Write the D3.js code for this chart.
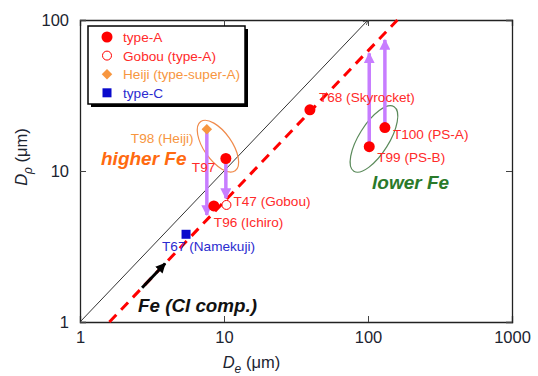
<!DOCTYPE html>
<html>
<head>
<meta charset="utf-8">
<script src="https://cdn.jsdelivr.net/npm/d3@7"></script>
<style>
  body { margin: 0; background: #fff; }
  svg text { font-family: Arial, 'Liberation Sans', sans-serif; }
</style>
</head>
<body>
<div id="chart"></div>
<script>
// values (De, Dp in um)
const typeALabels = ['T68 (Skyrocket)', 'T100 (PS-A)', 'T99 (PS-B)', 'T97', 'T96 (Ichiro)'];
const typeADe = [39.5, 131, 102, 10.3, 8.5];
const typeADp = [25.4, 19.4, 14.5, 12.1, 5.87];

const gobouLabels = ['T47 (Gobou)'];
const gobouDe = [10.4];
const gobouDp = [5.96];

const heijiLabels = ['T98 (Heiji)'];
const heijiDe = [7.6];
const heijiDp = [18.9];

const typeCLabels = ['T67 (Namekuji)'];
const typeCDe = [5.45];
const typeCDp = [3.81];

// purple shift arrows: De, Dp start -> Dp end
const shiftDe = [7.6, 10.3, 102, 131];
const shiftFrom = [18.9, 12.1, 14.5, 19.4];
const shiftTo = [5.11, 6.6, 60.2, 73.8];

// 1:1 line and Fe (CI composition) line
const oneToOneDe = [1, 100];
const oneToOneDp = [1, 100];
const ciDe = [1.6, 160];
const ciDp = [1, 100];
const ciArrowDe = [2.7, 3.9];

const tickValues = [1, 10, 100, 1000];
const yTickValues = [1, 10, 100];

// label offsets from their points (px)
const labelOffsets = {
  'T68 (Skyrocket)': [9, -8], 'T100 (PS-A)': [8, 11], 'T99 (PS-B)': [8, 15],
  'T97': [-34, 14], 'T96 (Ichiro)': [0, 21], 'T47 (Gobou)': [7, 1],
  'T98 (Heiji)': [-76, 14], 'T67 (Namekuji)': [-24, 17]
};

const red = '#ff0000', textRed = '#ff2a2a', orange = '#f7963f', blue = '#0a0acc';
const purple = '#c77dff';

const margin = {top: 20, right: 26, bottom: 54, left: 80};
const width = 538, height = 376;
const w = width - margin.left - margin.right;
const h = height - margin.top - margin.bottom;

const svg = d3.select('#chart').append('svg')
  .attr('width', width)
  .attr('height', height);

const defs = svg.append('defs');
defs.append('marker')
  .attr('id', 'head-purple')
  .attr('viewBox', '0 0 10 10')
  .attr('refX', 9).attr('refY', 5)
  .attr('markerUnits', 'userSpaceOnUse')
  .attr('markerWidth', 11).attr('markerHeight', 11)
  .attr('orient', 'auto')
  .append('path').attr('d', 'M0,0 L10,5 L0,10 Z').attr('fill', purple);
defs.append('marker')
  .attr('id', 'head-black')
  .attr('viewBox', '0 0 10 10')
  .attr('refX', 9).attr('refY', 5)
  .attr('markerUnits', 'userSpaceOnUse')
  .attr('markerWidth', 10).attr('markerHeight', 10)
  .attr('orient', 'auto')
  .append('path').attr('d', 'M0,0 L10,5 L0,10 Z').attr('fill', '#000');
defs.append('marker')
  .attr('id', 'head-thin')
  .attr('viewBox', '0 0 10 10')
  .attr('refX', 10).attr('refY', 5)
  .attr('markerUnits', 'userSpaceOnUse')
  .attr('markerWidth', 5).attr('markerHeight', 5)
  .attr('orient', 'auto')
  .append('path').attr('d', 'M0,0 L10,5 L0,10').attr('fill', 'none').attr('stroke', '#333').attr('stroke-width', 1.5);

const chart = svg.append('g')
  .attr('transform', 'translate(' + margin.left + ',' + margin.top + ')');

const x = d3.scaleLog().domain([1, 1000]).range([0, w]);
const y = d3.scaleLog().domain([1, 100]).range([h, 0]);

// axes with inward ticks
const xAxis = chart.append('g')
  .attr('transform', 'translate(0,' + h + ')')
  .call(d3.axisBottom(x).tickValues(tickValues).tickFormat(d3.format('d')).tickSize(-6).tickPadding(9));
const xTop = chart.append('g')
  .call(d3.axisTop(x).tickValues(tickValues).tickFormat('').tickSize(-6));
const yAxis = chart.append('g')
  .call(d3.axisLeft(y).tickValues(yTickValues).tickFormat(d3.format('d')).tickSize(-6).tickPadding(11));
const yRight = chart.append('g')
  .attr('transform', 'translate(' + w + ',0)')
  .call(d3.axisRight(y).tickValues(yTickValues).tickFormat('').tickSize(-6));

[xAxis, xTop, yAxis, yRight].forEach(a => {
  a.select('.domain').attr('stroke', '#222').attr('stroke-width', 1.3);
  a.selectAll('.tick line').attr('stroke', '#444');
  a.selectAll('.tick text').attr('font-size', 16.5).attr('fill', '#1c2430')
    .attr('font-family', 'Arial, Liberation Sans, sans-serif');
});

// axis titles
const xt = svg.append('text')
  .attr('x', margin.left + x(15.5)).attr('y', 368)
  .attr('text-anchor', 'middle').attr('font-size', 16.5).attr('fill', '#1c2430');
xt.append('tspan').attr('font-style', 'italic').text('D');
xt.append('tspan').attr('font-style', 'italic').attr('font-size', 12).attr('dy', 5).text('e');
xt.append('tspan').attr('dy', -5).text(' (\u03bcm)');

const yt = svg.append('text')
  .attr('transform', 'translate(27,157) rotate(-90)')
  .attr('text-anchor', 'middle').attr('font-size', 16.5).attr('fill', '#1c2430');
yt.append('tspan').attr('font-style', 'italic').text('D');
yt.append('tspan').attr('font-style', 'italic').attr('font-size', 12).attr('dy', 5).text('\u03c1');
yt.append('tspan').attr('dy', -5).text(' (\u03bcm)');

// reference lines
const line = d3.line().x(d => x(d[0])).y(d => y(d[1]));
chart.append('path')
  .attr('d', line(d3.zip(oneToOneDe, oneToOneDp)))
  .attr('stroke', '#333').attr('stroke-width', 1).attr('fill', 'none')
  .attr('marker-end', 'url(#head-thin)');
chart.append('path')
  .attr('d', line(d3.zip(ciDe, ciDp)))
  .attr('stroke', red).attr('stroke-width', 3).attr('fill', 'none')
  .attr('stroke-dasharray', '10,7');

// black arrow along the CI line
const ciRatio = ciDp[0] / ciDe[0];
chart.append('path')
  .attr('d', line(ciArrowDe.map(d => [d, d * ciRatio])))
  .attr('stroke', '#000').attr('stroke-width', 3).attr('fill', 'none')
  .attr('marker-end', 'url(#head-black)');

// ellipses marking the groups
chart.append('ellipse')
  .attr('cx', x(9.08)).attr('cy', y(14.6))
  .attr('rx', 30).attr('ry', 14)
  .attr('transform', 'rotate(55,' + x(9.08) + ',' + y(14.6) + ')')
  .attr('fill', 'none').attr('stroke', '#f08a4b').attr('stroke-width', 1.2);
chart.append('ellipse')
  .attr('cx', x(110)).attr('cy', y(16.3))
  .attr('rx', 38).attr('ry', 15)
  .attr('transform', 'rotate(-58,' + x(110) + ',' + y(16.3) + ')')
  .attr('fill', 'none').attr('stroke', '#5a8a5a').attr('stroke-width', 1.2);

// shift arrows
chart.selectAll('.shift')
  .data(d3.range(shiftDe.length))
  .enter().append('line')
  .attr('class', 'shift')
  .attr('x1', i => x(shiftDe[i])).attr('x2', i => x(shiftDe[i]))
  .attr('y1', i => y(shiftFrom[i])).attr('y2', i => y(shiftTo[i]))
  .attr('stroke', purple).attr('stroke-width', 3.5)
  .attr('marker-end', 'url(#head-purple)');

// markers
chart.selectAll('.typeA')
  .data(d3.range(typeADe.length))
  .enter().append('circle')
  .attr('class', 'typeA')
  .attr('cx', i => x(typeADe[i])).attr('cy', i => y(typeADp[i]))
  .attr('r', 5.5).attr('fill', red);

chart.selectAll('.gobou')
  .data(d3.range(gobouDe.length))
  .enter().append('circle')
  .attr('class', 'gobou')
  .attr('cx', i => x(gobouDe[i])).attr('cy', i => y(gobouDp[i]))
  .attr('r', 4.5).attr('fill', '#fff').attr('stroke', red).attr('stroke-width', 1);

const diamond = d3.symbol().type(d3.symbolDiamond2).size(70);
chart.selectAll('.heiji')
  .data(d3.range(heijiDe.length))
  .enter().append('path')
  .attr('class', 'heiji')
  .attr('d', diamond)
  .attr('transform', i => 'translate(' + x(heijiDe[i]) + ',' + y(heijiDp[i]) + ')')
  .attr('fill', orange);

chart.selectAll('.typeC')
  .data(d3.range(typeCDe.length))
  .enter().append('rect')
  .attr('class', 'typeC')
  .attr('x', i => x(typeCDe[i]) - 4.5).attr('y', i => y(typeCDp[i]) - 4.5)
  .attr('width', 9).attr('height', 9).attr('fill', blue);

// point labels
function drawLabels(names, de, dp, color) {
  names.forEach((name, i) => {
    const off = labelOffsets[name];
    chart.append('text')
      .attr('x', x(de[i]) + off[0]).attr('y', y(dp[i]) + off[1])
      .attr('font-size', 13.6).attr('fill', color)
      .text(name);
  });
}
drawLabels(typeALabels, typeADe, typeADp, textRed);
drawLabels(gobouLabels, gobouDe, gobouDp, textRed);
drawLabels(heijiLabels, heijiDe, heijiDp, orange);
drawLabels(typeCLabels, typeCDe, typeCDp, '#2b2bd0');

// annotations
chart.append('text')
  .attr('x', 21).attr('y', 145)
  .attr('font-size', 19).attr('font-weight', 'bold').attr('font-style', 'italic')
  .attr('fill', '#ff6a10').text('higher Fe');
chart.append('text')
  .attr('x', 292).attr('y', 169)
  .attr('font-size', 19).attr('font-weight', 'bold').attr('font-style', 'italic')
  .attr('fill', '#2a7a2a').text('lower Fe');
chart.append('text')
  .attr('x', 58).attr('y', 292)
  .attr('font-size', 18.8).attr('font-weight', 'bold').attr('font-style', 'italic')
  .attr('fill', '#111').text('Fe (CI comp.)');

// legend
const legendItems = ['type-A', 'Gobou (type-A)', 'Heiji (type-super-A)', 'type-C'];
const legendColors = [textRed, textRed, orange, '#2b2bd0'];
const legend = svg.append('g').attr('transform', 'translate(88,26)');
legend.append('rect')
  .attr('x', 3).attr('y', 3).attr('width', 157).attr('height', 78).attr('fill', '#000');
legend.append('rect')
  .attr('width', 157).attr('height', 78)
  .attr('fill', '#fff').attr('stroke', '#000').attr('stroke-width', 1.5);

const row = legend.selectAll('.key')
  .data(legendItems)
  .enter().append('g')
  .attr('class', 'key')
  .attr('transform', (d, i) => 'translate(19,' + (11 + i * 18.6) + ')');

row.each(function (d, i) {
  const g = d3.select(this);
  if (i === 0) {
    g.append('circle').attr('r', 5.5).attr('fill', red);
  } else if (i === 1) {
    g.append('circle').attr('r', 4.5).attr('fill', '#fff').attr('stroke', red);
  } else if (i === 2) {
    g.append('path').attr('d', diamond).attr('fill', orange);
  } else {
    g.append('rect').attr('x', -4.5).attr('y', -4.5).attr('width', 9).attr('height', 9).attr('fill', blue);
  }
  g.append('text')
    .attr('x', 16).attr('dy', '0.36em')
    .attr('font-size', 13.6).attr('fill', legendColors[i])
    .text(d);
});
</script>
</body>
</html>
